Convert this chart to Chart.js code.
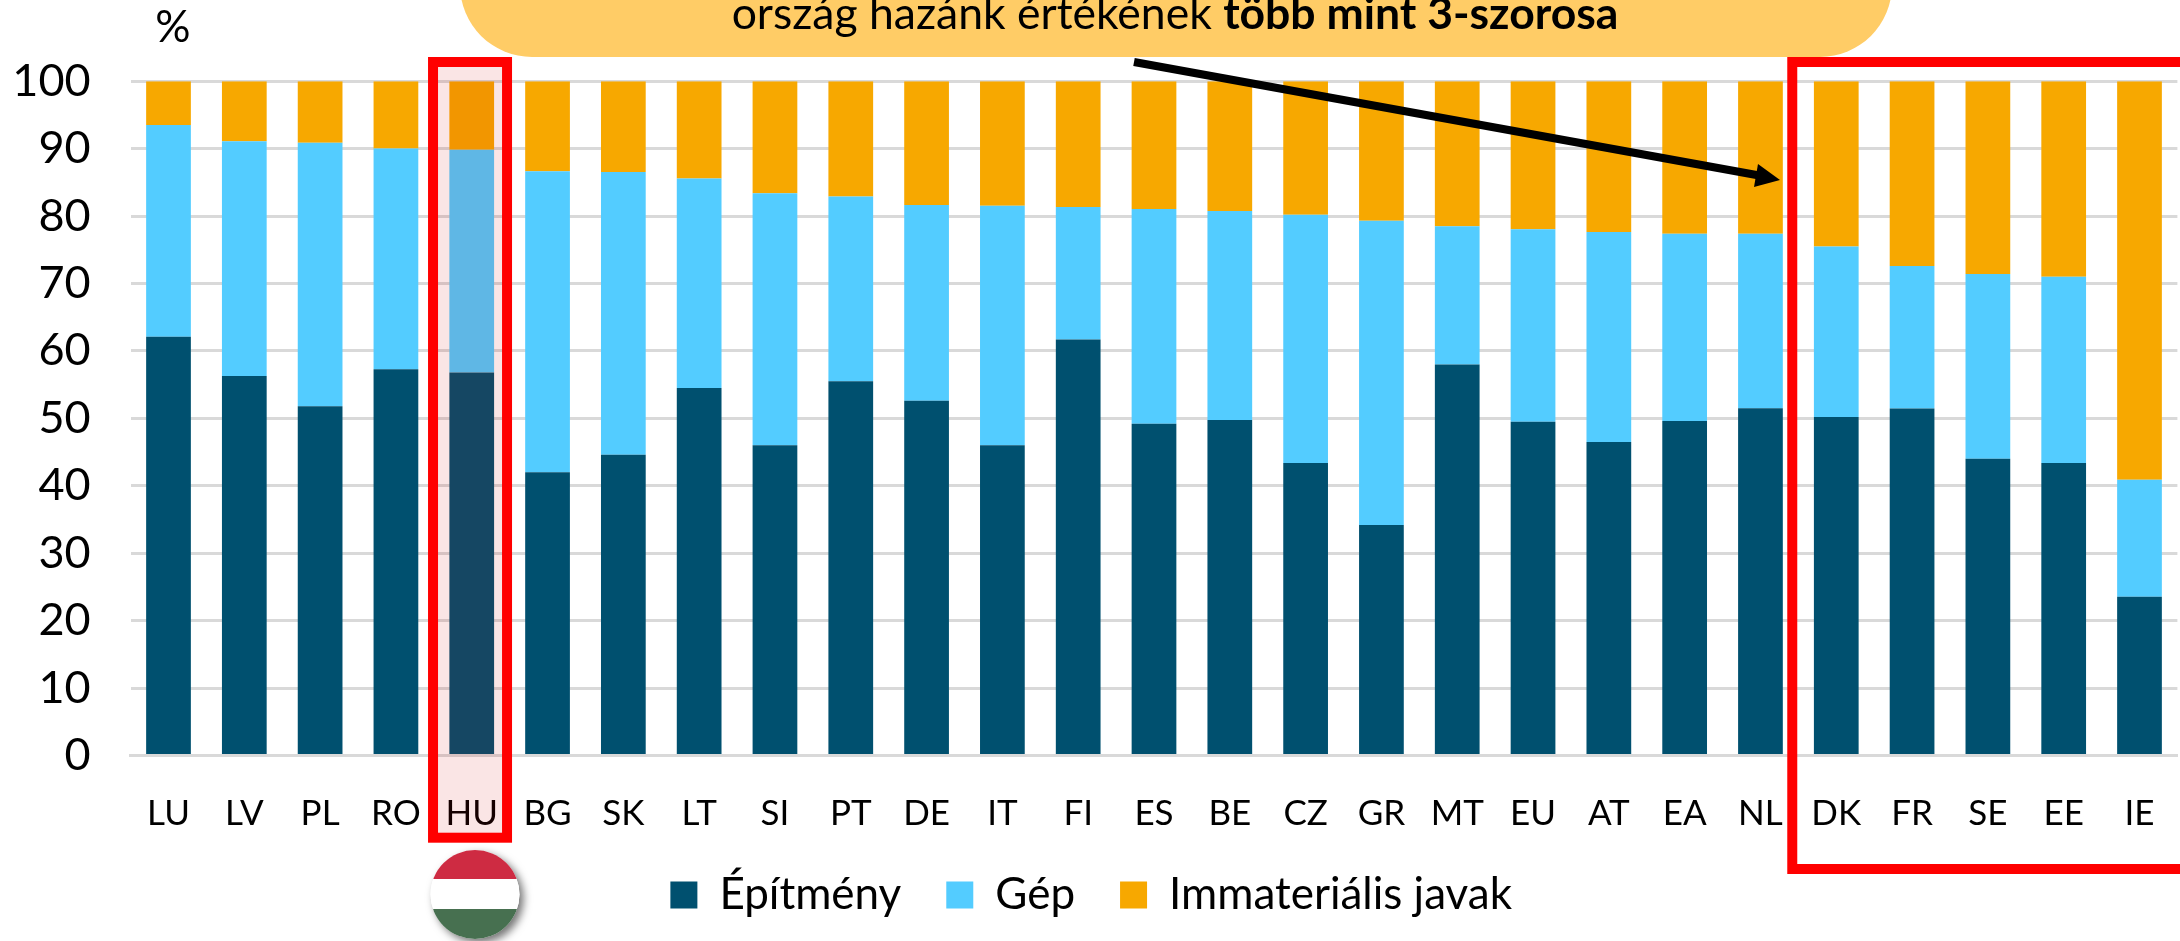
<!DOCTYPE html>
<html><head><meta charset="utf-8">
<script src="https://cdn.jsdelivr.net/npm/chart.js@4"></script>
<style>html,body{margin:0;padding:0;background:#fff;overflow:hidden}canvas{display:block}</style>
</head><body>
<canvas id="c" width="2180" height="941"></canvas>
<script>
const categories = ["LU","LV","PL","RO","HU","BG","SK","LT","SI","PT","DE","IT","FI","ES","BE","CZ","GR","MT","EU","AT","EA","NL","DK","FR","SE","EE","IE"];
const epitmeny = [62.1,56.3,51.8,57.3,56.8,42,44.6,54.5,46,55.5,52.6,46,61.7,49.2,49.75,43.4,34.2,58,49.5,46.5,49.6,51.5,50.2,51.45,44,43.4,23.55];
const gep = [31.4,34.8,39.1,32.75,33.05,44.65,41.95,31.1,37.4,27.4,29.05,35.55,19.65,31.85,31,36.8,45.1,20.5,28.55,31.15,27.8,25.9,25.3,21.15,27.4,27.6,17.35];
const immaterialis = [6.5,8.9,9.1,9.95,10.15,13.35,13.45,14.4,16.6,17.1,18.35,18.45,18.65,18.95,19.25,19.8,20.7,21.5,21.95,22.35,22.6,22.6,24.5,27.4,28.6,29,59.1];
const yTicks = [0,10,20,30,40,50,60,70,80,90,100];
const seriesNames = ["Építmény","Gép","Immateriális javak"];
const calloutPlain = "ország hazánk értékének ";
const calloutBold = "több mint 3-szorosa";
const FONT = "Lato";

const annotations = {
  id:'annotations',
  beforeDraw(chart){ chart.scales.x.bottom = chart.scales.x.top + 110; },
  afterDraw(chart){
    const c = chart.ctx, x = chart.scales.x;
    c.save();
    // callout
    c.fillStyle = '#FFCC66';
    c.beginPath(); c.roundRect(460,-100,1432,157,72); c.fill();
    c.fillStyle = '#000'; c.textBaseline='alphabetic'; c.textAlign='left';
    c.font = `44.5px ${FONT}`; const w1 = c.measureText(calloutPlain).width;
    c.font = `bold 44.5px ${FONT}`; const w2 = c.measureText(calloutBold).width;
    const sx = 1175-(w1+w2)/2;
    c.font = `44.5px ${FONT}`; c.fillText(calloutPlain,sx,29);
    c.font = `bold 44.5px ${FONT}`; c.fillText(calloutBold,sx+w1,29);
    // percent label
    c.font = `44px ${FONT}`; c.textAlign='center'; c.fillText('%',173,42);
    // Hungary highlight
    const hu = x.getPixelForValue(4);
    c.fillStyle = 'rgba(205,0,0,0.1)';
    c.fillRect(hu-38.7,62,74,776);
    c.strokeStyle = '#FF0000'; c.lineWidth = 10;
    c.strokeRect(hu-38.7,62,74,775.7);
    // EU highlight
    const dk = x.getPixelForValue(22);
    c.strokeRect(dk-44,62,500,807);
    // arrow
    c.strokeStyle='#000'; c.fillStyle='#000'; c.lineWidth=8;
    c.beginPath(); c.moveTo(1134,62); c.lineTo(1762,176); c.stroke();
    c.beginPath(); c.moveTo(1780,180); c.lineTo(1758,164); c.lineTo(1754,187); c.closePath(); c.fill();
    // flag
    c.save();
    c.shadowColor='rgba(0,0,0,0.55)'; c.shadowBlur=8; c.shadowOffsetX=4; c.shadowOffsetY=4;
    c.fillStyle='#fff'; c.beginPath(); c.arc(475,894.5,44.5,0,Math.PI*2); c.fill();
    c.restore();
    c.save();
    c.beginPath(); c.arc(475,894.5,44.5,0,Math.PI*2); c.clip();
    c.fillStyle='#CE2B42'; c.fillRect(425,845,100,34);
    c.fillStyle='#FFFFFF'; c.fillRect(425,879,100,30);
    c.fillStyle='#477050'; c.fillRect(425,909,100,36);
    c.restore();
    c.restore();
  }
};

new Chart(document.getElementById('c'),{
  type:'bar',
  data:{labels:categories,datasets:[
    {label:seriesNames[0],data:epitmeny,backgroundColor:'#00506F'},
    {label:seriesNames[1],data:gep,backgroundColor:'#53CCFF'},
    {label:seriesNames[2],data:immaterialis,backgroundColor:'#F7A800'}
  ]},
  options:{
    responsive:false,animation:false,
    devicePixelRatio:1,
    datasets:{bar:{categoryPercentage:1,barPercentage:0.59,borderWidth:0}},
    layout:{padding:{top:81.3,right:2.6,left:5,bottom:14}},
    plugins:{
      tooltip:{enabled:false},
      legend:{position:'bottom',labels:{boxWidth:27,boxHeight:27,padding:45,color:'#000',font:{family:FONT,size:44}}}
    },
    scales:{
      x:{stacked:true,
        grid:{display:false,drawTicks:false},
        border:{color:'#D9D9D9',width:3},
        ticks:{color:'#000',font:{family:FONT,size:35},padding:37,maxRotation:0,autoSkip:false},
        afterFit(s){s.height=72.5;s.paddingLeft=0;s.paddingRight=0;}
      },
      y:{stacked:true,min:0,max:100,
        afterBuildTicks(s){s.ticks=yTicks.map(v=>({value:v}));},
        grid:{color:'#D9D9D9',lineWidth:3,drawTicks:false},
        border:{display:false},
        ticks:{color:'#000',font:{family:FONT,size:45},padding:40},
        afterFit(s){s.width=125.6;s.paddingTop=0;s.paddingBottom=0;}
      }
    }
  },
  plugins:[annotations]
});
</script>
</body></html>
